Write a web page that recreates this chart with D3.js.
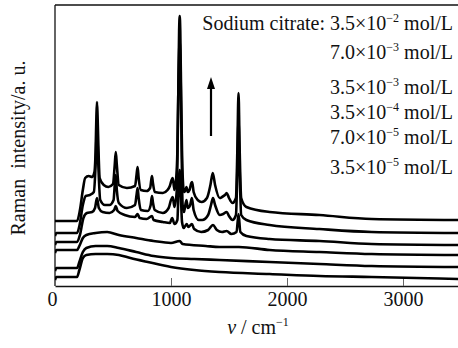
<!DOCTYPE html>
<html>
<head>
<meta charset="utf-8">
<script src="https://cdn.jsdelivr.net/npm/d3@7"></script>
<style>
  html, body { margin: 0; padding: 0; background: #fff; }
  svg { display: block; }
  text { font-family: "Liberation Serif", "DejaVu Serif", serif; fill: #111; }
</style>
</head>
<body>
<div id="chart"></div>
<script>
// ---- data (wavenumber cm^-1, intensity a.u.) ----
const concLabels = ["3.5×10|−2", "7.0×10|−3", "3.5×10|−3", "3.5×10|−4", "7.0×10|−5", "3.5×10|−5"];

const spec35e2 = [[0,65],[190,65],[215,76],[240,96],[260,108],[290,110],[320,109],[340,114],[350,135],[357,170],[362,184],[367,170],[374,140],[385,108],[420,101],[460,99],[500,102],[515,121],[524,134],[533,121],[550,101],[620,98],[690,100],[703,111],[712,119],[721,108],[740,96],[790,95],[820,98],[830,106],[836,110],[843,104],[860,94],[930,93],[970,96],[990,100],[1005,106],[1015,108],[1030,96],[1045,108],[1055,135],[1062,185],[1070,255],[1075,270],[1080,255],[1088,185],[1095,135],[1105,100],[1112,94],[1125,96],[1133,99],[1145,94],[1160,96],[1175,103],[1182,104],[1195,94],[1230,86],[1264,84],[1310,88],[1340,101],[1360,113],[1380,101],[1420,88],[1440,89],[1465,91],[1480,93],[1500,88],[1530,83],[1560,88],[1572,136],[1582,193],[1592,136],[1605,88],[1650,79],[1850,74],[2280,71],[2730,67],[3500,66]];

const spec70e3 = [[0,50],[12,53],[190,53],[212,61],[240,81],[265,90],[300,91],[335,94],[350,121],[362,161],[372,126],[390,86],[430,81],[470,81],[505,86],[515,101],[524,111],[533,96],[550,83],[620,78],[690,81],[703,91],[712,98],[721,88],[740,76],[800,75],[825,81],[836,90],[845,83],[860,76],[930,73],[980,78],[1000,86],[1015,89],[1030,79],[1050,96],[1065,206],[1075,246],[1085,196],[1100,81],[1112,74],[1133,86],[1145,78],[1165,81],[1180,88],[1195,76],[1240,66],[1270,66],[1320,71],[1345,81],[1362,88],[1380,81],[1420,71],[1450,72],[1480,74],[1500,70],[1530,66],[1560,71],[1572,116],[1582,166],[1592,116],[1605,71],[1650,66],[1850,61],[2280,57],[2730,54],[3500,53]];

const spec35e3 = [[0,41],[12,44],[190,44],[215,51],[245,68],[275,73],[320,74],[345,78],[362,88],[378,78],[410,74],[470,73],[510,76],[524,80],[540,75],[600,71],[690,69],[712,72],[730,68],[790,67],[836,70],[850,66],[930,64],[990,63],[1010,68],[1030,62],[1055,66],[1065,96],[1075,116],[1085,91],[1095,64],[1110,58],[1135,62],[1150,59],[1180,62],[1200,57],[1260,54],[1320,56],[1362,61],[1395,56],[1440,54],[1480,55],[1520,52],[1565,54],[1582,72],[1598,54],[1650,50],[1850,47],[2280,45],[2730,42],[3500,41]];

const spec35e4 = [[0,33],[12,36],[190,36],[210,40],[240,48],[270,51],[350,53],[450,54],[550,51],[700,48],[850,45],[1000,43],[1075,45],[1100,42],[1300,40],[1419,39],[1585,39],[1850,36],[2280,34],[2730,32],[3500,31]];

const spec70e5 = [[0,15],[12,18],[190,18],[210,24],[240,34],[270,38],[350,40],[450,40],[550,38],[700,34],[850,30],[1000,28],[1200,27],[1419,26],[1850,24],[2280,22],[2730,20],[3500,19]];

const spec35e5 = [[0,6],[12,9],[190,9],[210,16],[240,28],[270,31],[350,32],[450,32],[550,31],[650,28],[800,24],[1000,19],[1200,16],[1419,14],[1850,12],[2280,10],[2730,9],[3500,7]];

const spectra = [spec35e2, spec70e3, spec35e3, spec35e4, spec70e5, spec35e5];
const xTicks = [0, 1000, 2000, 3000];

// ---- layout ----
const W = 458, H = 348;
const mLeft = 55, mTop = 5, mBottom = 286, mRight = 461;

const svg = d3.select("#chart").append("svg")
  .attr("width", W).attr("height", H)
  .style("background", "#fff");

const x = d3.scaleLinear().domain([0, 3500]).range([mLeft, mRight]);
const y = d3.scaleLinear().domain([0, 281]).range([mBottom, mTop]);

// frame: left, top
svg.append("line").attr("x1", mLeft).attr("x2", mLeft).attr("y1", mTop).attr("y2", mBottom)
  .attr("stroke", "#111").attr("stroke-width", 1.3);
svg.append("line").attr("x1", mLeft).attr("x2", W).attr("y1", mTop).attr("y2", mTop)
  .attr("stroke", "#111").attr("stroke-width", 1.3);

// x axis with inward ticks
const xAxis = d3.axisBottom(x).tickValues(xTicks).tickSizeInner(-8).tickSizeOuter(0).tickPadding(6)
  .tickFormat(d3.format("d"));
const gx = svg.append("g").attr("transform", `translate(0,${mBottom})`).call(xAxis);
gx.select(".domain").attr("stroke", "#111").attr("stroke-width", 1.3);
gx.selectAll(".tick line").attr("stroke", "#666").attr("stroke-width", 1)
  .filter(d => d === 0).remove();
gx.selectAll(".tick text")
  .style("font-family", "'Liberation Serif', serif")
  .style("font-size", "20px").attr("fill", "#111")
  .attr("dx", d => d === 0 ? -3 : 0);

// spectra
const line = d3.line().x(d => x(d[0])).y(d => y(d[1])).curve(d3.curveMonotoneX);
const defs = svg.append("defs");
defs.append("clipPath").attr("id", "clip").append("rect")
  .attr("x", mLeft).attr("y", 0).attr("width", W - mLeft).attr("height", mBottom);
svg.append("g").attr("clip-path", "url(#clip)")
  .selectAll("path").data(spectra).join("path")
  .attr("d", line)
  .attr("fill", "none").attr("stroke", "#000").attr("stroke-width", 2.6)
  .attr("stroke-linejoin", "round");

// legend
const legendY = [30, 59, 94, 119, 144, 174];
const lg = svg.append("g");
concLabels.forEach((lab, i) => {
  const [base, exp] = lab.split("|");
  const t = lg.append("text").attr("x", 453).attr("y", legendY[i])
    .attr("text-anchor", "end").style("font-size", "20px");
  t.append("tspan").text((i === 0 ? "Sodium citrate: " : "") + base);
  t.append("tspan").attr("dy", -8).style("font-size", "12px").text(exp);
  t.append("tspan").attr("dy", 8).text(" mol/L");
});

// arrow
svg.append("line").attr("x1", 211).attr("x2", 211).attr("y1", 136).attr("y2", 86)
  .attr("stroke", "#000").attr("stroke-width", 2.2);
svg.append("path").attr("d", "M211,77 L215,89 L207,89 Z").attr("fill", "#000");

// x label
const xl = svg.append("text").attr("x", 258).attr("y", 334).attr("text-anchor", "middle")
  .style("font-size", "20px");
xl.append("tspan").style("font-style", "italic").text("v");
xl.append("tspan").text(" / cm");
xl.append("tspan").attr("dy", -8).style("font-size", "12px").text("−1");

// y label
svg.append("text").attr("transform", "translate(25,148) rotate(-90)")
  .attr("text-anchor", "middle").style("font-size", "20px")
  .text("Raman\u00a0\u00a0intensity/a. u.");
</script>
</body>
</html>
